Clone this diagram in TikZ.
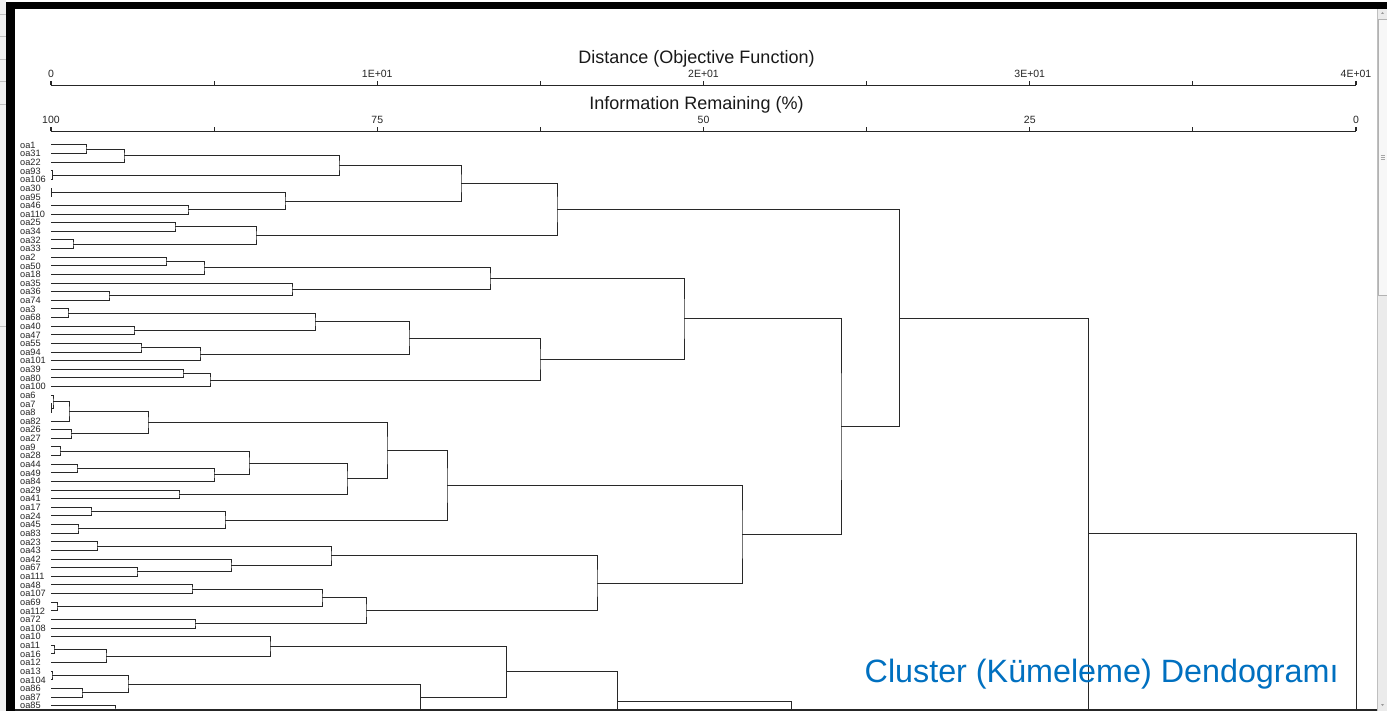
\documentclass[tikz,border=0pt]{standalone}
\usepackage{fontspec}
\setmainfont{Liberation Sans}
\usetikzlibrary{calc}
\definecolor{capblue}{RGB}{0,112,192}
\definecolor{dline}{RGB}{40,40,40}
\definecolor{winbg}{RGB}{240,240,240}
\newcommand\mrg[4]{%
  \path let \p1=(#2), \p2=(#3) in coordinate (#1) at ({#4pt},{0.5*\y1+0.5*\y2});
  \draw[dl] (#2) -| (#1) |- (#3);}
\begin{document}
\begin{tikzpicture}[x=1pt,y=-1pt,
  dl/.style={draw=dline,line width=1pt},
  ax/.style={draw=black!85,line width=1.2pt},
  lab/.style={font=\fontsize{9.2}{9.2}\selectfont,inner sep=0pt,anchor=base west,text=black!85},
  axl/.style={font=\fontsize{10.5}{10.5}\selectfont,inner sep=0pt,anchor=base,text=black!85},
  ttl/.style={font=\fontsize{18}{18}\selectfont,inner sep=0pt,anchor=base,text=black!90}]
\useasboundingbox (0,0) rectangle (1387,711);
% window background
\fill[white] (0,0) rectangle (1387,711);
\fill[winbg] (0,0) rectangle (6,711);
\foreach \yy in {14,36,59,81,104,326} \draw[gray!50,line width=0.6pt] (0,\yy) -- (6,\yy);
% axes
\coordinate (d0) at (51,85.5); \coordinate (d8) at (1356,85.5);
\coordinate (i0) at (51,131.3); \coordinate (i8) at (1356,131.3);
\draw[ax] (d0) -- (d8);
\draw[ax] (i0) -- (i8);
\foreach \k in {0,...,8} {
  \draw[ax] ({51+163.125*\k},85.5) -- ++(0,-4.5);
  \draw[ax] ({51+163.125*\k},131.3) -- ++(0,-4.5);
}
\node[ttl] (tdist) at (696.5,63.3) {Distance (Objective Function)};
\node[ttl] (tinfo) at (696.5,109.5) {Information Remaining (\%)};
\node[axl] (l0) at (51,77.5) {0};
\node[axl] (l1) at (377.25,77.5) {1E+01};
\node[axl] (l2) at (703.5,77.5) {2E+01};
\node[axl] (l3) at (1029.75,77.5) {3E+01};
\node[axl] (l4) at (1356,77.5) {4E+01};
\node[axl] (p0) at (51,124) {100};
\node[axl] (p1) at (377.25,124) {75};
\node[axl] (p2) at (703.5,124) {50};
\node[axl] (p3) at (1029.75,124) {25};
\node[axl] (p4) at (1356,124) {0};
% leaves
\foreach \n [count=\i from 0] in {oa1,oa31,oa22,oa93,oa106,oa30,oa95,oa46,oa110,oa25,oa34,oa32,oa33,oa2,oa50,oa18,oa35,oa36,oa74,oa3,oa68,oa40,oa47,oa55,oa94,oa101,oa39,oa80,oa100,oa6,oa7,oa8,oa82,oa26,oa27,oa9,oa28,oa44,oa49,oa84,oa29,oa41,oa17,oa24,oa45,oa83,oa23,oa43,oa42,oa67,oa111,oa48,oa107,oa69,oa112,oa72,oa108,oa10,oa11,oa16,oa12,oa13,oa104,oa86,oa87,oa85} {
  \coordinate (\n) at (51,{145+8.626*\i});
  \node[lab] (t-\n) at (20,{148.3+8.626*\i}) {\n};
}
\coordinate (h1) at (51,714.3);
\coordinate (h2) at (200,730.7);
\begin{scope}
\clip (15,9) rectangle (1376,709);
\mrg{m1}{oa1}{oa31}{86}
\mrg{m2}{m1}{oa22}{124}
\mrg{m3}{oa93}{oa106}{52.3}
\mrg{m4}{m2}{m3}{339}
\mrg{m5}{oa30}{oa95}{51.6}
\mrg{m6}{oa46}{oa110}{188}
\mrg{m7}{m5}{m6}{285}
\mrg{m8}{m4}{m7}{461}
\mrg{m9}{oa25}{oa34}{175}
\mrg{m10}{oa32}{oa33}{73}
\mrg{m11}{m9}{m10}{256}
\mrg{m12}{m8}{m11}{557}
\mrg{m13}{oa2}{oa50}{166}
\mrg{m14}{m13}{oa18}{204}
\mrg{m15}{oa36}{oa74}{109}
\mrg{m16}{oa35}{m15}{292}
\mrg{m17}{m14}{m16}{490}
\mrg{m18}{oa3}{oa68}{68}
\mrg{m19}{oa40}{oa47}{134}
\mrg{m20}{m18}{m19}{315}
\mrg{m21}{oa55}{oa94}{141}
\mrg{m22}{m21}{oa101}{200}
\mrg{m23}{m20}{m22}{409}
\mrg{m24}{oa39}{oa80}{183}
\mrg{m25}{m24}{oa100}{210}
\mrg{m26}{m23}{m25}{540}
\mrg{m27}{m17}{m26}{684}
\mrg{m28}{oa7}{oa8}{51.7}
\mrg{m29}{oa6}{m28}{53}
\mrg{m30}{m29}{oa82}{69}
\mrg{m31}{oa26}{oa27}{71}
\mrg{m32}{m30}{m31}{148}
\mrg{m33}{oa9}{oa28}{60}
\mrg{m34}{oa44}{oa49}{77}
\mrg{m35}{m34}{oa84}{214}
\mrg{m36}{m33}{m35}{249}
\mrg{m37}{oa29}{oa41}{179}
\mrg{m38}{m36}{m37}{347}
\mrg{m39}{m32}{m38}{387}
\mrg{m40}{oa17}{oa24}{91}
\mrg{m41}{oa45}{oa83}{78}
\mrg{m42}{m40}{m41}{225}
\mrg{m43}{m39}{m42}{447}
\mrg{m44}{oa23}{oa43}{97}
\mrg{m45}{oa67}{oa111}{137}
\mrg{m46}{oa42}{m45}{231}
\mrg{m47}{m44}{m46}{331}
\mrg{m48}{oa48}{oa107}{192}
\mrg{m49}{oa69}{oa112}{57}
\mrg{m50}{m48}{m49}{322}
\mrg{m51}{oa72}{oa108}{195}
\mrg{m52}{m50}{m51}{366}
\mrg{m53}{m47}{m52}{597}
\mrg{m54}{m43}{m53}{742}
\mrg{m55}{m27}{m54}{841}
\mrg{m56}{m12}{m55}{899}
\mrg{m57}{oa11}{oa16}{54}
\mrg{m58}{m57}{oa12}{106}
\mrg{m59}{oa10}{m58}{270}
\mrg{m60}{oa13}{oa104}{52}
\mrg{m61}{oa86}{oa87}{82}
\mrg{m62}{m60}{m61}{128}
\mrg{m63}{oa85}{h1}{115}
\mrg{m64}{m62}{m63}{420.7}
\mrg{m65}{m59}{m64}{506.7}
\mrg{m66}{m65}{h2}{617.7}
\coordinate (e791) at (791.7,720);
\draw[dl] (m66) -| (e791);
\coordinate (m1088) at (1088,533);
\coordinate (e1088) at (1088,720);
\coordinate (eroot) at (1356,720);
\draw[dl] (m56) -| (e1088);
\draw[dl] (m1088) -| (eroot);
\end{scope}
% caption
\node[font=\fontsize{32.3}{32.3}\selectfont,text=capblue,inner sep=0pt,anchor=base west] (cap) at (864.5,682.5) {Cluster (Kümeleme) Dendogramı};
% frame
\fill[black] (5.7,1.7) rectangle (1387,9.3);
\fill[black] (5.7,1.7) rectangle (15,711);
\fill[black!85] (15,708.8) rectangle (1377,711);
% scrollbar
\fill[black!8] (1377.5,9.3) rectangle (1387,711);
\draw[gray!50,line width=0.6pt] (1377.5,9.3) -- (1377.5,711);
\fill[black!3] (1378.5,19) rectangle (1387,295);
\draw[gray!60,line width=0.6pt] (1387,19) -- (1378.5,19) -- (1378.5,295) -- (1387,295);
\foreach \yy in {155.5,157.5,159.5} \draw[gray!70,line width=0.4pt] (1380.5,\yy) -- (1385,\yy);
\fill[gray!80] (1381,14) -- (1384,14) -- (1382.5,12) -- cycle;
\fill[gray!80] (1381,704) -- (1384,704) -- (1382.5,706) -- cycle;
\end{tikzpicture}
\end{document}
